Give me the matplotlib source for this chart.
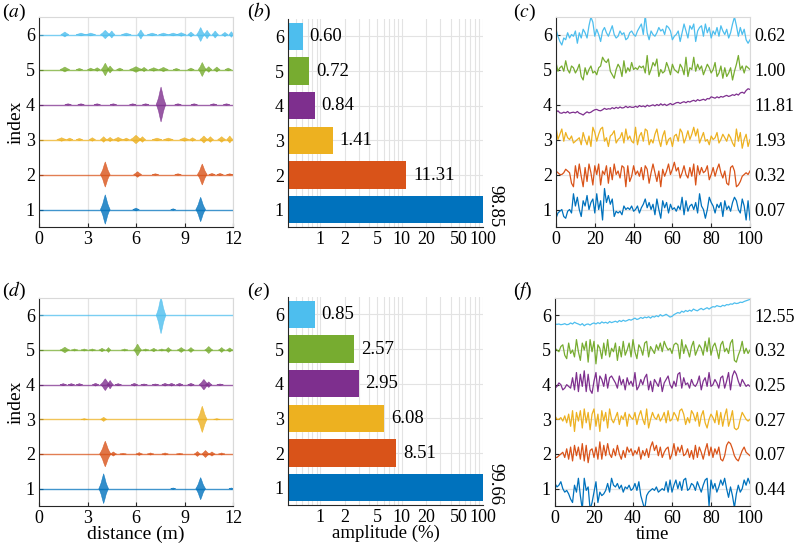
import numpy as np
import matplotlib
matplotlib.use("Agg")
import matplotlib.pyplot as plt

plt.rcParams["font.family"] = ["Liberation Serif", "DejaVu Serif"]
plt.rcParams["mathtext.fontset"] = "stix"
plt.rcParams["font.size"] = 13

# ─── Datos ────────────────────────────────────────────────────────────────────
COLORS = ["#0072BD", "#D95319", "#EDB120", "#7E2F8E", "#77AC30", "#4DBEEE"]
INDEX = [1, 2, 3, 4, 5, 6]

# paquetes de onda: (centro m, amplitud, semiancho m) por fila (1..6)
packets_a = [
    [(4.1, 0.42, 0.3), (6.0, 0.04, 0.2), (8.3, 0.015, 0.15), (10.0, 0.35, 0.3)],
    [(4.1, 0.36, 0.3), (6.1, 0.08, 0.25), (7.2, 0.015, 0.2), (8.6, 0.015, 0.2),
     (10.1, 0.30, 0.3), (10.7, 0.03, 0.2), (11.2, 0.03, 0.2), (11.8, 0.02, 0.2)],
    [(1.4, 0.05, 0.3), (1.9, 0.04, 0.2), (2.5, 0.03, 0.2), (3.3, 0.05, 0.2),
     (4.0, 0.08, 0.2), (4.4, 0.06, 0.2), (4.9, 0.06, 0.3), (5.4, 0.04, 0.2),
     (6.0, 0.12, 0.35), (6.4, 0.08, 0.2), (7.3, 0.04, 0.3), (8.0, 0.04, 0.3),
     (9.0, 0.05, 0.3), (9.5, 0.05, 0.2), (10.2, 0.10, 0.25), (10.6, 0.08, 0.2),
     (11.3, 0.08, 0.25), (11.8, 0.10, 0.2)],
    [(1.8, 0.02, 0.2), (2.6, 0.02, 0.2), (3.6, 0.02, 0.2), (4.6, 0.02, 0.2),
     (5.8, 0.02, 0.2), (6.6, 0.02, 0.2), (7.55, 0.50, 0.3), (8.6, 0.02, 0.2),
     (9.6, 0.02, 0.2), (10.8, 0.02, 0.2), (11.6, 0.02, 0.2)],
    [(1.6, 0.07, 0.3), (2.5, 0.03, 0.2), (3.2, 0.04, 0.2), (3.6, 0.05, 0.2),
     (4.1, 0.18, 0.25), (4.4, 0.10, 0.2), (5.0, 0.04, 0.2), (6.0, 0.08, 0.4),
     (6.5, 0.06, 0.2), (7.1, 0.05, 0.3), (7.7, 0.06, 0.3), (8.5, 0.03, 0.2),
     (9.4, 0.04, 0.2), (10.1, 0.20, 0.25), (10.5, 0.08, 0.2), (11.0, 0.07, 0.2),
     (11.7, 0.04, 0.2)],
    [(1.6, 0.07, 0.25), (2.6, 0.04, 0.3), (3.2, 0.04, 0.3), (4.1, 0.12, 0.3),
     (4.5, 0.10, 0.2), (5.4, 0.04, 0.3), (6.3, 0.13, 0.2), (7.0, 0.04, 0.3),
     (7.7, 0.04, 0.3), (8.3, 0.04, 0.3), (8.8, 0.05, 0.3), (9.4, 0.07, 0.2),
     (10.0, 0.20, 0.25), (10.4, 0.12, 0.2), (10.9, 0.10, 0.2), (11.5, 0.06, 0.2),
     (11.9, 0.08, 0.15)],
]

packets_d = [
    [(4.0, 0.43, 0.3), (8.3, 0.02, 0.15), (10.0, 0.32, 0.3), (11.9, 0.02, 0.15)],
    [(4.1, 0.37, 0.35), (4.6, 0.06, 0.2), (5.2, 0.02, 0.2), (6.2, 0.04, 0.2),
     (6.9, 0.03, 0.2), (7.8, 0.03, 0.2), (8.7, 0.02, 0.2), (9.8, 0.07, 0.2),
     (10.3, 0.10, 0.25), (10.7, 0.06, 0.2), (11.3, 0.03, 0.2)],
    [(2.8, 0.01, 0.2), (4.0, 0.06, 0.2), (10.1, 0.38, 0.3), (11.0, 0.015, 0.2)],
    [(1.5, 0.03, 0.2), (2.0, 0.03, 0.2), (2.5, 0.03, 0.2), (3.5, 0.04, 0.2),
     (4.1, 0.17, 0.3), (4.4, 0.12, 0.2), (4.9, 0.03, 0.2), (5.9, 0.04, 0.2),
     (6.5, 0.02, 0.2), (7.2, 0.02, 0.2), (7.8, 0.04, 0.2), (8.2, 0.04, 0.2),
     (8.7, 0.04, 0.2), (9.4, 0.04, 0.2), (10.2, 0.15, 0.3), (10.5, 0.08, 0.2),
     (11.2, 0.02, 0.2)],
    [(1.6, 0.08, 0.3), (2.2, 0.03, 0.2), (2.8, 0.03, 0.2), (3.3, 0.03, 0.2),
     (3.9, 0.05, 0.2), (4.3, 0.07, 0.15), (5.3, 0.03, 0.2), (6.1, 0.17, 0.25),
     (6.6, 0.03, 0.2), (7.1, 0.05, 0.2), (7.6, 0.03, 0.2), (8.0, 0.07, 0.2),
     (8.8, 0.07, 0.25), (9.4, 0.07, 0.2), (10.5, 0.10, 0.25), (11.3, 0.07, 0.2),
     (11.8, 0.06, 0.2)],
    [(7.55, 0.53, 0.3)],
]

amp_b = [98.85, 11.31, 1.41, 0.84, 0.72, 0.60]
amp_e = [99.66, 8.51, 6.08, 2.95, 2.57, 0.85]

right_c = ["0.07", "0.32", "1.93", "11.81", "1.00", "0.62"]
right_f = ["0.44", "0.07", "0.27", "0.25", "0.32", "12.55"]

time = np.arange(101)

# desviaciones respecto del índice, en centésimas
c1 = [-25, -10, -5, 0, -20, -25, -5, 0, -10, 45,
      10, 35, 0, -20, 25, 10, 40, 0, 20, 30,
      -10, 45, 0, 25, -30, 60, 20, 40, 15, 30,
      -20, -5, -10, -5, -15, 10, 0, 5, 0, 10,
      -5, 0, 10, -10, 5, 15, 30, 5, 20, 0,
      15, -15, 30, 0, -25, 25, 5, 20, -10, 15,
      0, 5, -5, 10, 0, 35, -15, 25, -5, 10,
      15, 0, 20, -10, 45, 10, 0, -25, 0, 35,
      20, 10, -10, 15, 5, 20, -20, 25, 0, 10,
      -5, 20, 35, 25, 0, -10, 30, 10, -30, 25,
      -30]
c2 = [10, 5, 0, 0, 5, 15, 10, 5, -25, -35,
      25, -10, 30, -5, -35, 20, -20, 30, 5, -30,
      25, 0, 30, -30, 10, 0, 25, -25, 20, -15,
      30, 0, 10, -10, 25, 20, -35, 25, -20, -5,
      25, 0, 10, -5, 20, -15, 25, 15, -25, 5,
      30, 5, -20, 10, -35, 15, -5, 10, 30, 0,
      15, 35, 10, 20, -10, 5, 25, 0, -10, 20,
      -5, 30, -30, 25, 0, 20, 5, 10, 25, -15,
      0, 20, -5, 15, 30, 5, -10, 10, -25, -30,
      20, 25, 10, -35, -30, -20, -5, 0, 5, 0,
      10]
c3 = [35, 0, 15, 30, -5, 20, 5, 0, 10, -10,
      -5, 0, 5, -15, 20, 0, -15, 10, -20, 35,
      20, -5, 15, 30, 35, -5, 5, -20, 10, 15,
      25, -10, 0, 5, 20, -10, 30, 0, 10, -5,
      -10, 35, -15, 10, 20, -5, 30, 25, -15, 0,
      -10, 15, 30, 0, -20, 10, 25, -15, 0, 5,
      -20, 10, 15, -5, 30, 20, -10, 5, 25, 0,
      15, 35, 10, 30, -10, 5, 20, -5, 0, -15,
      10, 0, 5, 20, -10, 0, 15, 5, -5, 15,
      5, -10, -20, 30, -5, 20, -25, 0, 15, -20,
      0]
c4 = [-22, -18, -24, -25, -22, -24, -20, -25, -23, -22,
      -24, -20, -25, -27, -30, -25, -21, -24, -22, -18,
      -15, -14, -17, -18, -15, -11, -14, -12, -13, -9,
      -12, -8, -11, -7, -10, -9, -5, -9, -6, -8,
      -8, -5, -8, -3, -6, -4, -7, -2, -5, -3,
      -1, -4, 0, -3, 2, -2, 1, -3, 0, 3,
      -1, 2, 5, 6, 3, 6, 8, 5, 9, 7,
      10, 12, 9, 14, 11, 13, 15, 12, 17, 16,
      22, 20, 18, 22, 19, 23, 21, 24, 26, 23,
      25, 28, 26, 30, 27, 33, 35, 32, 40, 45,
      43]
c5 = [20, -5, 5, 10, -5, 25, 0, -10, 10, 5,
      -10, 0, 15, -20, -30, 5, -15, 0, 10, -10,
      -5, -15, 5, 10, 35, 25, 20, 30, -5, -15,
      -25, 0, 15, 5, -20, 25, -10, 5, -5, 20,
      0, 5, 0, 10, 5, 10, -10, 40, -15, 0,
      20, 10, 30, -20, 0, -10, -5, 20, 5, -15,
      15, 0, -5, -10, 15, 5, -15, 35, -20, 5,
      0, 35, -5, 15, 0, 10, -15, 0, 15, 5,
      -10, 0, 20, -20, -10, 10, -25, 5, -20, -10,
      5, -30, -5, 15, 40, 0, 10, -10, 10, 5,
      0]
c6 = [15, -5, -20, -30, -10, -15, 5, -10, 0, -5,
      10, -25, 5, -10, 15, 5, -10, 25, 50, 35,
      -5, 15, 0, -20, 10, 20, 5, -5, 10, 25,
      0, -10, -5, 10, 0, 5, -15, -10, 5, 10,
      0, -5, 10, 20, 30, 0, 55, 5, -15, 10,
      0, -5, 5, 20, 10, 15, 0, 25, 20, 10,
      -15, -5, 0, 10, -20, 5, 30, 10, -10, 25,
      15, 30, -20, 10, 20, 25, -5, 30, 5, 20,
      -10, 10, 0, 20, -5, 25, 10, 0, 15, -10,
      5, 30, 50, 25, -5, 20, 0, 15, -15, -25,
      -15]

f1 = [15, 5, 10, 20, 0, -10, -5, -15, -30, -40,
      10, -10, 30, -20, -60, 30, -5, 5, -60, -40,
      -10, 20, -40, -10, -20, -15, -5, 15, -10, 30,
      10, 5, 15, 0, 10, -10, 5, 0, 10, -5,
      0, 15, -5, 20, -20, -40, -60, -20, -10, -5,
      0, -5, 5, -10, -5, 0, -5, 20, -10, 25,
      -10, 10, 25, 0, 20, -5, 25, 30, -5, 0,
      15, 10, -5, 20, 5, -10, 10, 25, 30, -50,
      25, 0, 15, -10, 5, 25, 10, 30, 0, -25,
      5, -20, -55, -15, 10, -10, 0, 25, 10, 30,
      15]
f2 = [-10, -10, -5, 0, 5, -10, 15, -15, 20, -20,
      25, -5, 20, -15, 30, -20, 25, -25, 10, 15,
      -10, 20, -15, 35, -15, 25, -5, 30, 0, -10,
      15, -5, 25, 0, -15, 10, -10, 20, 5, 15,
      -5, 10, 0, 20, -15, 10, -5, 15, -10, 20,
      35, 10, 25, -5, 20, -10, 5, 15, 20, -15,
      0, 30, -5, 20, 5, 25, -5, 0, 15, -10,
      10, -15, 25, -10, 20, 5, -15, 10, 30, -5,
      20, -10, 15, 0, 20, -15, -20, -5, 25, 35,
      30, 15, -5, -15, -20, -5, 10, 20, 5, 0,
      -5]
f3 = [10, 0, 0, 5, -5, 10, -10, 15, -20, 25,
      -35, 20, -5, 25, -25, 30, -10, 20, -30, 15,
      30, -20, 15, -35, 25, -5, 20, -25, 30, 0,
      -10, 5, 20, -15, 10, 0, 20, -20, 15, 5,
      0, 20, -15, 10, 25, 0, -15, 30, -25, 0,
      20, 5, 0, 15, -5, 5, 20, -10, 25, -5,
      0, 20, 10, -5, 25, 30, 15, -15, 5, -10,
      25, 15, -5, 20, -20, 10, 25, -10, -25, 0,
      15, 5, -10, 25, -15, 20, -20, 10, 30, -20,
      0, 25, -25, -30, -25, 0, 20, 10, 0, -5,
      0]
f4 = [-10, -5, 5, 0, -15, -10, 0, -5, -10, 20,
      -15, 35, -20, 30, -5, 40, -20, 30, -15, -25,
      10, 35, -20, 25, 15, -5, 30, -10, 20, 25,
      15, 5, -10, 25, 0, 15, -15, 20, 0, 10,
      -5, 35, -15, -5, 15, 0, 20, 30, -15, 10,
      -20, 15, 5, -5, 20, -20, 5, 15, 25, 0,
      -10, 10, -5, 30, 35, -10, 20, 0, 5, -10,
      15, 0, -5, 5, 25, -15, 10, 20, -5, 35,
      -5, 0, 15, 5, -10, 20, 25, -10, 10, 35,
      -15, 25, 40, 30, 10, -5, 15, 5, -5, 0,
      -5]
f5 = [5, 0, -5, 10, 15, -15, -25, 20, -10, 0,
      -20, 30, -5, -30, 20, 0, 25, -35, 30, -5,
      25, -40, 15, 5, -25, 20, -15, 30, -20, 5,
      -5, 20, -30, 10, -20, 25, -15, 0, 20, -20,
      30, -5, -25, 15, 5, -15, 20, 25, -20, 10,
      0, -10, 15, 0, 20, -5, 25, 10, 0, 5,
      -10, 15, 20, 15, -25, 30, -10, 15, 0, -20,
      10, 25, -15, 0, 15, 5, -15, 25, -5, 35,
      -15, 10, 20, 0, -25, 15, 25, -5, 5, -10,
      20, 30, -30, -35, -15, 0, 25, -10, 5, -10,
      0]
f6 = [-25, -26, -25, -27, -26, -24, -27, -26, -22, -25,
      -20, -23, -25, -28, -24, -30, -26, -25, -28, -24,
      -22, -25, -21, -24, -19, -22, -20, -23, -18, -21,
      -19, -17, -20, -15, -18, -14, -17, -15, -12, -14,
      -11, -8, -12, -10, -6, -9, -5, -7, -4, -8,
      -3, -5, -1, -4, 2, -2, 0, 3, -1, -5,
      -3, 2, 5, 8, 6, 12, 9, 14, 11, 15,
      12, 18, 15, 13, 17, 20, 16, 19, 22, 18,
      22, 25, 24, 28, 26, 25, 29, 27, 31, 30,
      33, 32, 36, 34, 35, 38, 37, 40, 42, 44,
      46]

series_c = [c1, c2, c3, c4, c5, c6]
series_f = [f1, f2, f3, f4, f5, f6]

# forma de un paquete (estilo): posición relativa y altura relativa
SHAPE_X = np.array([-1, -0.75, -0.5, -0.25, 0, 0.25, 0.5, 0.75, 1])
SHAPE_H = np.array([0, 0.18, 0.4, 0.72, 1, 0.72, 0.4, 0.18, 0])

DARK = "#262626"
LIGHT = "#d9d9d9"
TICK_FS = 13
LAB_FS = 13.5

# ─── Figura ───────────────────────────────────────────────────────────────────
fig = plt.figure(figsize=(7.96, 5.48), dpi=100)
W, H = 796, 548


def add_ax(l, r, t, b):
    return fig.add_axes([l / W, 1 - b / H, (r - l) / W, (b - t) / H])


def style(ax):
    ax.tick_params(direction="in", length=3, color=DARK, labelsize=TICK_FS,
                   top=False, right=False, pad=3)
    ax.spines["left"].set_color(DARK)
    ax.spines["bottom"].set_color(DARK)
    ax.spines["top"].set_color(LIGHT)
    ax.spines["right"].set_color(LIGHT)
    ax.set_axisbelow(True)


def packets_panel(ax, packets, xlabel):
    style(ax)
    for i, row in enumerate(packets):
        y0 = INDEX[i]
        ax.plot([0, 12], [y0, y0], color=COLORS[i], lw=1.0, alpha=0.75)
        for xc, amp, hw in row:
            xs = xc + hw * SHAPE_X
            ys = max(amp, 0.02) * SHAPE_H
            ax.fill(np.r_[xs, xs[::-1]], np.r_[y0 + ys, y0 - ys[::-1]],
                    color=COLORS[i], alpha=0.8, lw=0.4)
    ax.set_xlim(0, 12)
    ax.set_ylim(0.5, 6.5)
    ax.set_xticks([0, 3, 6, 9, 12])
    ax.set_yticks(INDEX)
    ax.grid(axis="x", color="#e3e3e3", lw=0.9)
    ax.set_ylabel("index", fontsize=LAB_FS + 0.5, labelpad=1)
    if xlabel:
        ax.set_xlabel(xlabel, fontsize=LAB_FS + 0.5, labelpad=-1)


def bars_panel(ax, vals, xlabel):
    style(ax)
    ax.spines["top"].set_visible(False)
    ax.spines["right"].set_visible(False)
    ax.barh(INDEX, vals, height=0.78, color=COLORS, left=0.01)
    ax.set_xscale("log")
    ax.set_xlim(0.4, 100)
    ax.set_ylim(0.5, 6.5)
    ax.set_yticks(INDEX)
    ax.set_xticks([1, 2, 5, 10, 20, 50, 100])
    ax.set_xticklabels(["1", "2", "5", "10", "20", "50", "100"])
    ax.tick_params(axis="x", which="minor", length=0)
    ax.tick_params(axis="both", length=0)
    ax.grid(which="both", axis="x", color="#e3e3e3", lw=0.8)
    ax.grid(which="major", axis="y", color="#e3e3e3", lw=0.8)
    for i, v in enumerate(vals):
        if v > 50:
            ax.text(v * 1.1, INDEX[i] + 0.1, f"{v:.2f}", rotation=-90,
                    ha="left", va="center", fontsize=13.5, clip_on=False)
        else:
            ax.text(v * 1.22, INDEX[i], f"{v:.2f}", ha="left", va="center",
                    fontsize=13.5)
    if xlabel:
        ax.set_xlabel(xlabel, fontsize=LAB_FS, labelpad=-1)


def series_panel(ax, series, right_labels, xlabel):
    style(ax)
    for i, dev in enumerate(series):
        ax.plot(time, INDEX[i] + np.array(dev) / 100, color=COLORS[i], lw=0.9)
    ax.set_xlim(0, 100)
    ax.set_ylim(0.5, 6.5)
    ax.set_xticks([0, 20, 40, 60, 80, 100])
    ax.set_yticks(INDEX)
    ax.grid(color="#e3e3e3", lw=0.9)
    ax2 = ax.twinx()
    ax2.set_ylim(0.5, 6.5)
    ax2.set_yticks(INDEX)
    ax2.set_yticklabels(right_labels)
    ax2.tick_params(length=0, labelsize=TICK_FS, pad=3)
    for s in ax2.spines.values():
        s.set_visible(False)
    if xlabel:
        ax.set_xlabel(xlabel, fontsize=LAB_FS, labelpad=-1)


ax_a = add_ax(39, 233, 17, 227)
ax_b = add_ax(288, 483, 19, 227)
ax_c = add_ax(556, 750, 17, 227)
ax_d = add_ax(39, 233, 298, 506)
ax_e = add_ax(288, 483, 297, 505)
ax_f = add_ax(555, 750, 298, 506)

packets_panel(ax_a, packets_a, None)
packets_panel(ax_d, packets_d, "distance (m)")
bars_panel(ax_b, amp_b, None)
bars_panel(ax_e, amp_e, "amplitude (%)")
series_panel(ax_c, series_c, right_c, None)
series_panel(ax_f, series_f, right_f, "time")

for lab, x, y in [("a", 2, 12), ("b", 247, 12), ("c", 513, 12),
                  ("d", 2, 291), ("e", 247, 291), ("f", 513, 291)]:
    fig.text(x / W, 1 - y / H, rf"($\mathit{{{lab}}}$)", fontsize=14,
             ha="left", va="center")

plt.savefig("out.png", dpi=100)
